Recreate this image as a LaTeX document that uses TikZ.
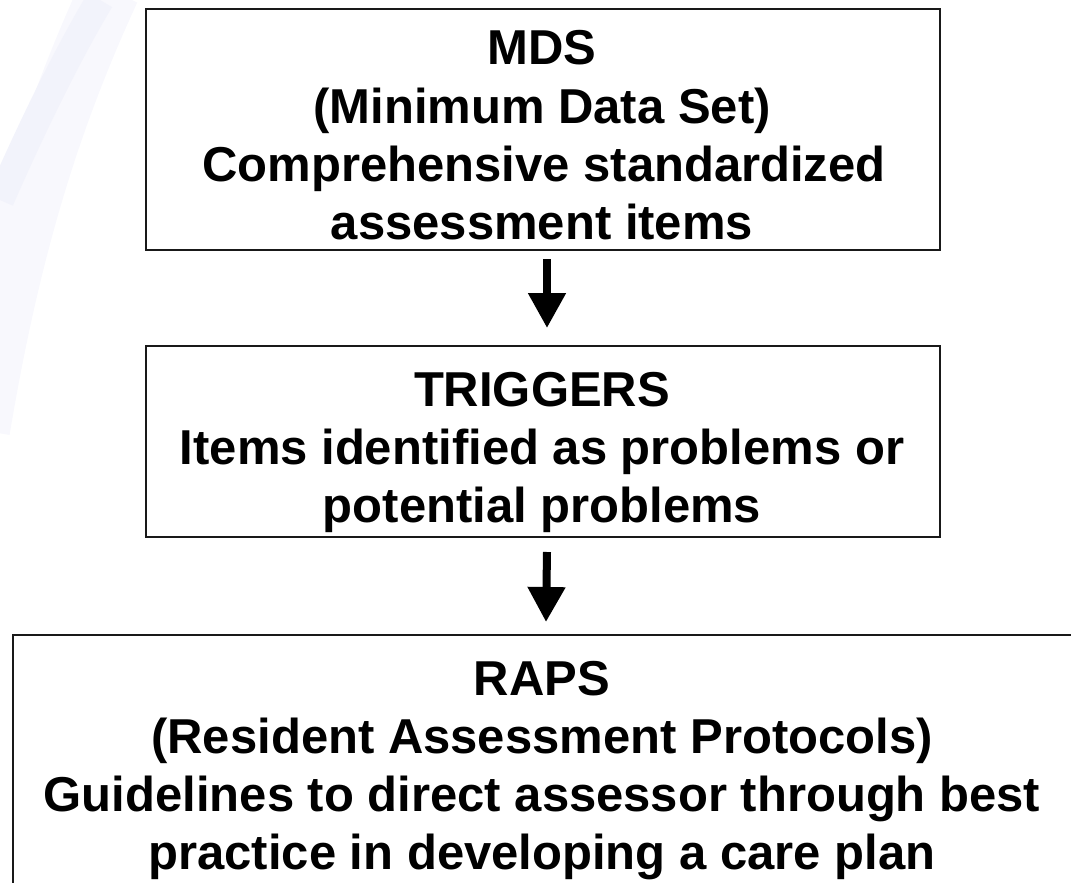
\documentclass[tikz,border=0pt]{standalone}
\usepackage{fontspec}
\setmainfont{Liberation Sans}
\usetikzlibrary{arrows.meta}
\definecolor{wm}{RGB}{242,243,251}
\definecolor{wmb}{RGB}{248,248,253}
\tikzset{
  box/.style={draw=black!90, line width=2pt, inner sep=0pt, anchor=north west},
  txt/.style={anchor=base, inner sep=0pt, font=\fontsize{49}{58}\selectfont\bfseries},
  flow/.style={line width=8pt, -{Triangle[width=36pt,length=35pt]}},
}
\begin{document}
\begin{tikzpicture}[x=1pt,y=-1pt]
\useasboundingbox (0,0) rectangle (1071,883);
% faint watermark
\draw[wmb, line width=60pt] (-20,430) .. controls (10,250) and (50,120) .. (110,-10);
\draw[wm, line width=28pt] (0,200) .. controls (35,120) and (70,50) .. (100,0);
% boxes
\node[box, minimum width=794pt, minimum height=240.5pt] (box1) at (145,8.5) {};
\node[box, minimum width=794pt, minimum height=191pt] (box2) at (145,345) {};
\node[box, minimum width=1080pt, minimum height=300pt] (box3) at (11.5,634) {};
% texts
\node[txt] (t11) at (542,65) {MDS};
\node[txt] (t12) at (542,123) {(Minimum Data Set)};
\node[txt] (t13) at (544,181) {Comprehensive standardized};
\node[txt] (t14) at (542,239) {assessment items};
\node[txt] (t21) at (542,406) {TRIGGERS};
\node[txt] (t22) at (542,464) {Items identified as problems or};
\node[txt] (t23) at (542,522) {potential problems};
\node[txt] (t31) at (542,695) {RAPS};
\node[txt] (t32) at (542,753) {(Resident Assessment Protocols)};
\node[txt] (t33) at (542,811) {Guidelines to direct assessor through best};
\node[txt] (t34) at (542,869) {practice in developing a care plan};
% arrows
\draw[flow] ([xshift=4pt,yshift=-8pt]box1.south) -- ([xshift=4pt,yshift=17pt]box2.north);
\draw[flow] ([xshift=4pt,yshift=-14pt]box2.south) -- ([yshift=12pt]box3.north -| 546,0);
\end{tikzpicture}
\end{document}
